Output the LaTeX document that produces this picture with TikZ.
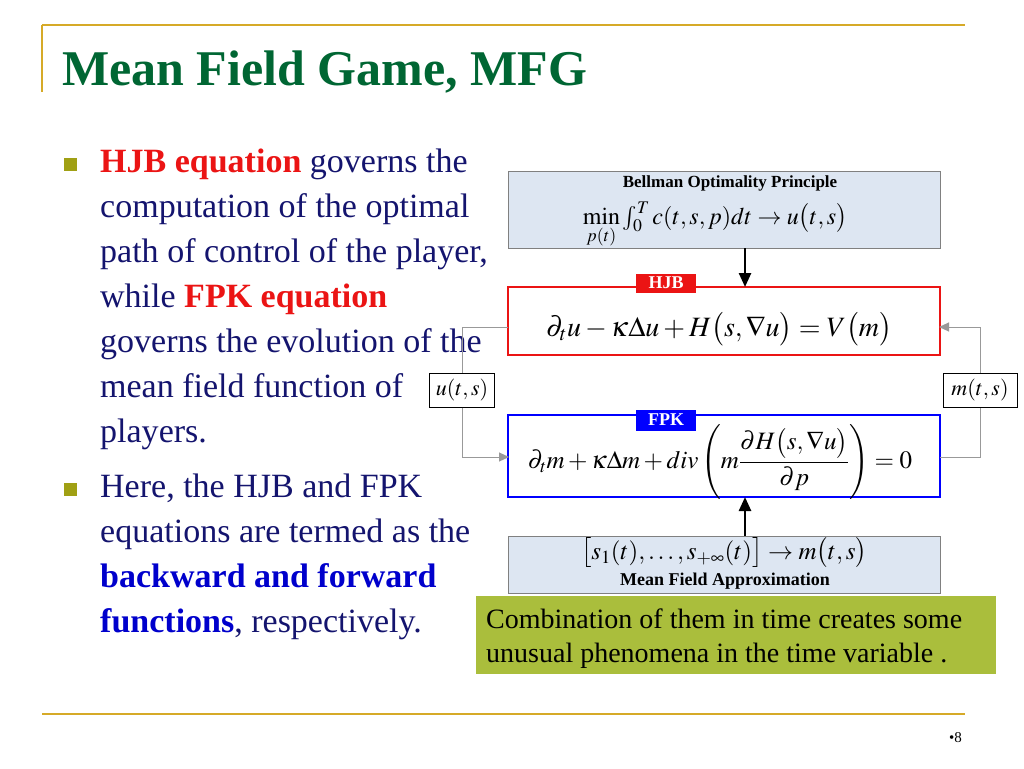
\documentclass[tikz,border=0pt]{standalone}
\usepackage{mathptmx}
\usepackage{amsmath}
\usepackage{fontspec}
\setmainfont{Liberation Serif}
\usetikzlibrary{arrows.meta}
\definecolor{gold}{RGB}{214,170,40}
\definecolor{ttl}{RGB}{0,102,51}
\definecolor{navy}{RGB}{20,20,110}
\definecolor{bul}{RGB}{160,160,20}
\definecolor{boxfill}{RGB}{221,230,242}
\definecolor{grn}{RGB}{170,190,60}
\definecolor{myred}{RGB}{235,20,20}
\begin{document}
\begin{tikzpicture}[x=1pt,y=-1pt,
  txt/.style={anchor=base west,inner sep=0,font=\fontsize{34}{34}\selectfont,text=navy},
  eqbox/.style={draw=gray,fill=boxfill,line width=1pt},
  lab/.style={inner sep=0,font=\fontsize{18}{18}\selectfont\bfseries,text=white},
  conn/.style={draw=gray!80,line width=1pt},
  thick arrow/.style={-{Triangle[length=14pt,width=12pt]},line width=2.5pt}]
\useasboundingbox (0,0) rectangle (1024,768);
\fill[white] (0,0) rectangle (1024,768);
\draw[gold,line width=2pt] (42,25) -- (965,25);
\draw[gold,line width=2pt] (42,25) -- (42,92);
\node[anchor=base west,inner sep=0,text=ttl,font=\fontsize{50}{50}\selectfont\bfseries] (title) at (62,85) {Mean Field Game, MFG};
% bullets
\fill[bul] (64,158) rectangle (77,171);
\fill[bul] (64,483) rectangle (77,496);
\node[txt] (l1) at (100,172) {\textcolor{myred}{\textbf{HJB equation}} governs the};
\node[txt] (l2) at (100,217) {computation of the optimal};
\node[txt] (l3) at (100,262) {path of control of the player,};
\node[txt] (l4) at (100,307) {while \textcolor{myred}{\textbf{FPK equation}}};
\node[txt] (l5) at (100,352) {governs the evolution of the};
\node[txt] (l6) at (100,397) {mean field function of};
\node[txt] (l7) at (100,442) {players.};
\node[txt] (m1) at (100,497) {Here, the HJB and FPK};
\node[txt] (m2) at (100,542) {equations are termed as the};
\node[txt,text=blue!80!black] (m3) at (100,587) {\textbf{backward and forward}};
\node[txt] (m4) at (100,632) {\textcolor{blue!80!black}{\textbf{functions}}, respectively.};
% boxes
\draw[eqbox] (508,171) rectangle (940,248);
\coordinate (bell) at (745,248);
\node[inner sep=0,font=\fontsize{17}{17}\selectfont\bfseries] (bt) at (730,183) {Bellman Optimality Principle};
\node[inner sep=0,font=\fontsize{24}{24}\selectfont] (be) at (715,225) {$\min\limits_{p(t)}\int_0^T c(t,s,p)dt\rightarrow u\big(t,s\big)$};
\draw[myred,line width=1.5pt,fill=white] (508,287) rectangle (940,355);
\coordinate (hjbtop) at (745,287);
\coordinate (hjbl) at (508,327);
\coordinate (hjbr) at (940,327);
\node[fill=myred,minimum width=60pt,minimum height=19pt,lab] (hjb) at (666,283) {HJB};
\node[inner sep=0,font=\fontsize{28}{28}\selectfont] (he) at (719,329) {$\partial_t u-\kappa\Delta u+H\big(s,\nabla u\big)=V\big(m\big)$};
\draw[blue,line width=1.5pt,fill=white] (508,415) rectangle (940,497);
\coordinate (fpkbot) at (745,497);
\coordinate (fpkl) at (508,457);
\coordinate (fpkr) at (940,457);
\node[fill=blue,minimum width=60pt,minimum height=21pt,lab] (fpk) at (666,420) {FPK};
\node[inner sep=0,font=\fontsize{25}{25}\selectfont] (fe) at (720,462) {$\partial_t m+\kappa\Delta m+div\left(m\dfrac{\partial H\big(s,\nabla u\big)}{\partial p}\right)=0$};
\draw[eqbox] (508,536) rectangle (940,593);
\coordinate (mfa) at (745,536);
\node[inner sep=0,font=\fontsize{25}{25}\selectfont] (me) at (724,553) {$\big[s_1(t),\ldots,s_{+\infty}(t)\big]\rightarrow m\big(t,s\big)$};
\node[inner sep=0,font=\fontsize{18}{18}\selectfont\bfseries] (mt) at (725,581) {Mean Field Approximation};
% side boxes
\node[draw,line width=1pt,minimum width=65pt,minimum height=34pt,inner sep=0,font=\fontsize{22}{22}\selectfont] (u) at (462,390) {$u(t,s)$};
\node[draw,line width=1pt,minimum width=74pt,minimum height=34pt,inner sep=0,font=\fontsize{22}{22}\selectfont] (m) at (980,390) {$m(t,s)$};
% connectors
\draw[conn] (hjbl) -| (u.north);
\draw[conn,-{Triangle[length=10pt,width=9pt]},shorten >=-1pt] (u.south) |- (fpkl);
\draw[conn] (fpkr) -| (m.south);
\draw[conn,-{Triangle[length=10pt,width=9pt]},shorten >=-1pt] (m.north) |- (hjbr);
\draw[thick arrow] (bell) -- (hjbtop);
\draw[thick arrow] (mfa) -- (fpkbot);
% green box
\node[fill=grn,minimum width=520pt,minimum height=78pt,anchor=north west,inner sep=0] (g) at (476,596) {};
\node[anchor=base west,inner sep=0,font=\fontsize{28}{28}\selectfont] (g1) at (486,628) {Combination of them in time creates some};
\node[anchor=base west,inner sep=0,font=\fontsize{28}{28}\selectfont] (g2) at (486,662) {unusual phenomena in the time variable .};
\draw[gold,line width=2pt] (42,714) -- (965,714);
\node[anchor=base east,inner sep=0,font=\fontsize{15}{15}\selectfont] (pg) at (962,742) {•8};
\end{tikzpicture}
\end{document}
